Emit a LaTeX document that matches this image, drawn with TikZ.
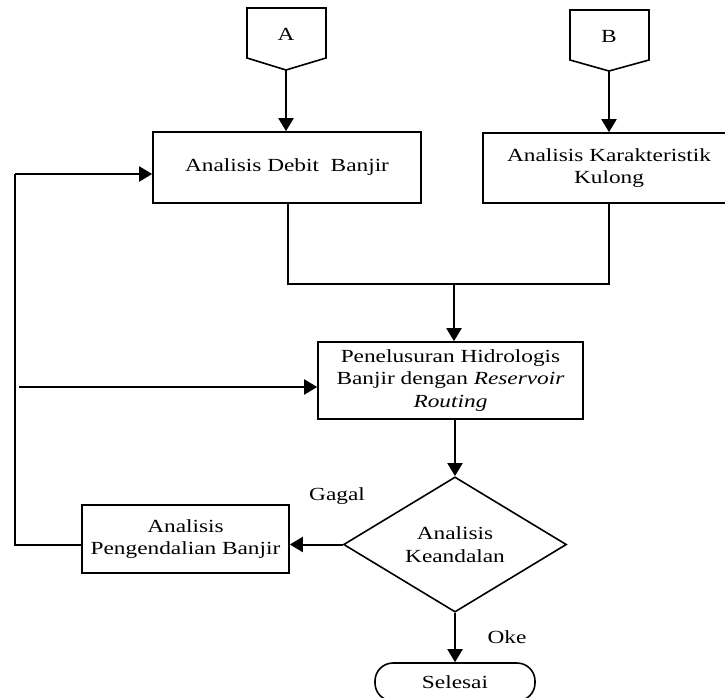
\documentclass[tikz,border=0pt]{standalone}
\usepackage{fontspec}
\setmainfont[FakeStretch=1.26]{Liberation Serif}
\usetikzlibrary{shapes.geometric,arrows.meta}
\begin{document}
\begin{tikzpicture}[x=1pt,y=-1pt,
  every node/.style={font=\fontsize{18.5}{22.5}\selectfont},
  procbox/.style={draw,line width=1.6pt,align=center,inner sep=0pt},
  decbox/.style={draw,diamond,line width=1.6pt,align=center,inner sep=0pt},
  termbox/.style={draw,rounded corners=18pt,line width=1.6pt,align=center,inner sep=0pt},
  conshape/.style={draw,line width=1.6pt},
  flow/.style={line width=2pt,-{Triangle[length=13pt,width=15pt]}},
  plain/.style={line width=1.6pt},
  lbl/.style={inner sep=0pt}]
\useasboundingbox (0,0) rectangle (725,697);
% off-page connectors
\draw[conshape] (247,8) -- (326,8) -- (326,58) -- (286,70) -- (247,58) -- cycle;
\node[lbl] (A) at (286,34) {A};
\coordinate (Atip) at (286,70);
\draw[conshape] (570,10) -- (649,10) -- (649,60) -- (609,71) -- (570,60) -- cycle;
\node[lbl] (B) at (609,36) {B};
\coordinate (Btip) at (609,71);
% process boxes
\node[procbox,minimum width=268pt,minimum height=71pt] (deb) at (287,167.5) {Analisis Debit\ \ Banjir};
\node[procbox,minimum width=252pt,minimum height=70pt] (kar) at (609,168) {Analisis Karakteristik\\Kulong};
\node[procbox,minimum width=265pt,minimum height=77pt] (pen) at (450.5,380.5) {Penelusuran Hidrologis\\Banjir dengan \textit{Reservoir}\\\textit{Routing}};
\node[decbox,minimum width=223pt,minimum height=131pt] (kea) at (455,544.5) {Analisis\\Keandalan};
\node[procbox,minimum width=207pt,minimum height=68pt] (pbj) at (185.5,539) {Analisis\\Pengendalian Banjir};
\node[termbox,minimum width=160pt,minimum height=38pt] (sel) at (455,682) {Selesai};
% labels
\node[lbl] (gagal) at (337,496) {Gagal};
\node[lbl] (oke) at (507,637) {Oke};
% connectors
\draw[flow] (Atip) -- (Atip |- deb.north);
\draw[flow] (Btip) -- (Btip |- kar.north);
\coordinate (j1) at (288,284);
\coordinate (j2) at (609,284);
\coordinate (jm) at (454,284);
\draw[plain] (deb.south -| j1) -- (j1) -- (j2) -- (kar.south -| j2);
\draw[flow] (jm) -- (jm |- pen.north);
\draw[flow] (pen.south -| kea.north) -- (kea.north);
\draw[flow] (kea.west) -- (kea.west -| pbj.east);
\draw[flow] (kea.south) -- (sel.north);
\coordinate (fb1) at (15,545);
\coordinate (fb2) at (15,174);
\draw[plain] (pbj.west |- fb1) -- (fb1) -- (fb2);
\draw[flow] (fb2) -- (fb2 -| deb.west);
\coordinate (in3) at (19,387);
\draw[flow] (in3) -- (in3 -| pen.west);
\end{tikzpicture}
\end{document}
